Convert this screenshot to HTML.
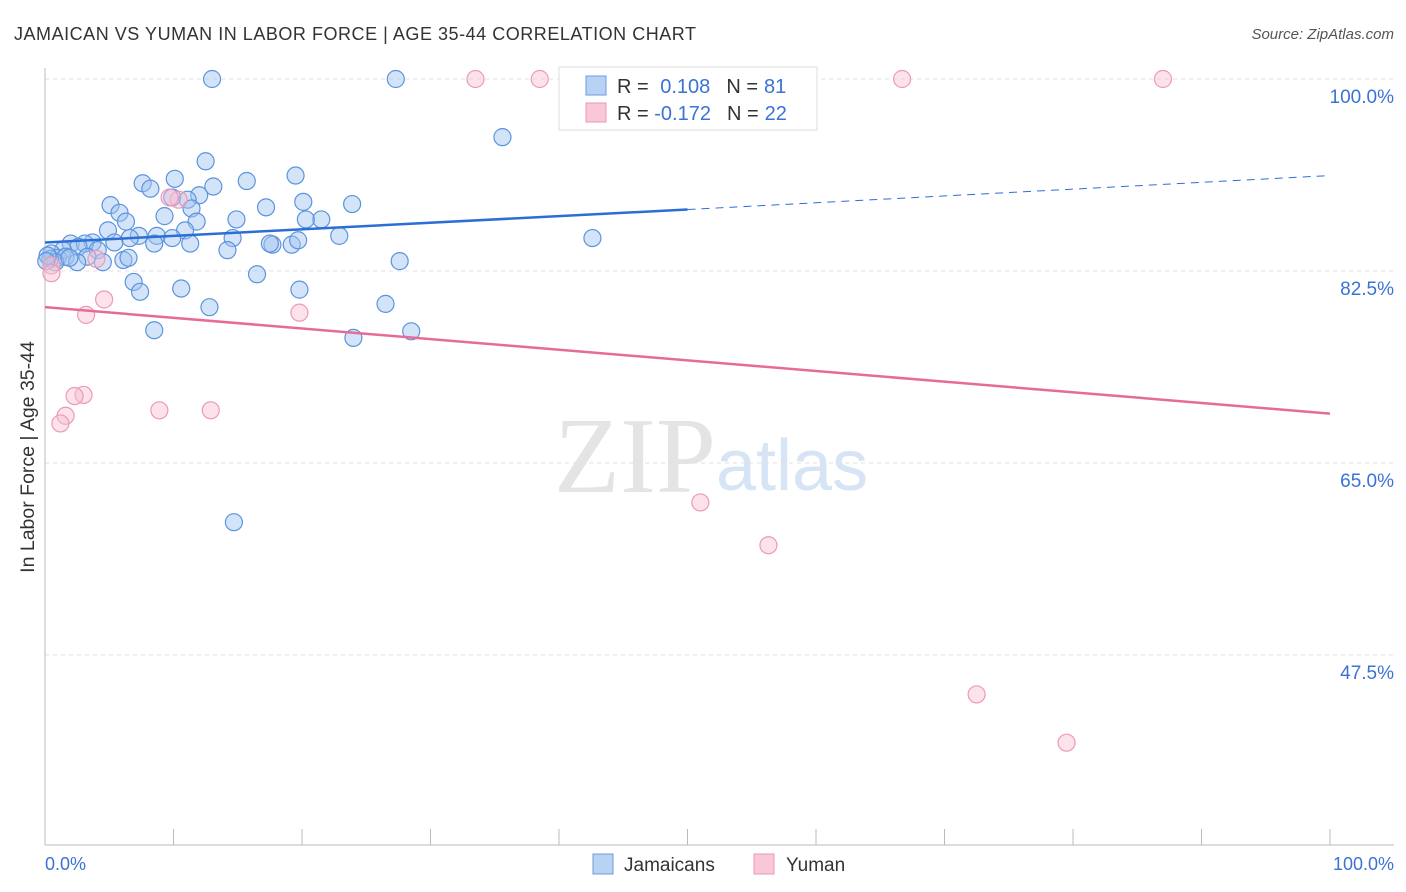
<!DOCTYPE html>
<html><head><meta charset="utf-8"><style>
body{margin:0;background:#fff;font-family:"Liberation Sans",sans-serif;}
</style></head><body>
<svg id="c" width="1406" height="892" style="display:block">
<text x="14" y="40" font-size="18" fill="#333" textLength="682">JAMAICAN VS YUMAN IN LABOR FORCE | AGE 35-44 CORRELATION CHART</text>
<text x="1394" y="39" font-size="15" fill="#555" text-anchor="end" font-style="italic">Source: ZipAtlas.com</text>
<text x="716" y="492" font-size="108" fill="#e4e4e4" text-anchor="end" font-family="Liberation Serif">ZIP</text>
<text x="716" y="490" font-size="72" fill="#d6e4f5">atlas</text>
<g id="grid"></g>
<g id="pts"></g>
<g id="lines"></g>
<text transform="translate(34,457) rotate(-90)" font-size="19.5" fill="#333" text-anchor="middle">In Labor Force | Age 35-44</text>
<text x="45" y="870" font-size="18" fill="#3b72d6">0.0%</text>
<text x="1394" y="870" font-size="18" fill="#3b72d6" text-anchor="end">100.0%</text>
<g>
<rect x="559" y="67" width="258" height="63" fill="#fff" stroke="#ddd"/>
<rect x="586" y="76" width="20" height="19" fill="#b9d2f3" stroke="#6b9be0"/>
<rect x="586" y="103" width="20" height="19" fill="#f9c7d6" stroke="#e997b2"/>
<text x="617" y="93" font-size="20" fill="#333">R = <tspan fill="#3b72d6" dx="6">0.108</tspan><tspan dx="16">N =</tspan><tspan fill="#3b72d6" dx="6">81</tspan></text>
<text x="617" y="120" font-size="20" fill="#333">R = <tspan fill="#3b72d6" dx="0">-0.172</tspan><tspan dx="16">N =</tspan><tspan fill="#3b72d6" dx="6">22</tspan></text>
</g>
<g>
<rect x="593" y="854" width="20" height="20" fill="#b9d2f3" stroke="#6b9be0"/>
<text x="624" y="871" font-size="19" fill="#333">Jamaicans</text>
<rect x="754" y="854" width="20" height="20" fill="#f9c7d6" stroke="#e997b2"/>
<text x="786" y="871" font-size="19" fill="#333">Yuman</text>
</g>
</svg>
<script>
const yTicks=[100,82.5,65,47.5];
const blueX=[13.0,27.3,35.6,12.5,19.5,10.1,15.7,7.6,8.2,13.1,12.0,9.9,11.1,20.1,23.9,5.1,11.4,5.8,17.2,9.3,14.9,11.8,21.5,20.3,4.9,6.3,7.3,10.9,8.7,9.9,14.6,22.9,6.6,42.6,5.4,8.5,11.3,3.7,2.0,3.1,17.7,17.5,19.2,19.7,14.2,2.6,4.1,1.4,0.5,1.0,1.6,3.3,4.5,6.1,6.5,2.5,27.6,16.5,6.9,7.4,10.6,19.8,26.5,12.8,8.5,28.5,24.0,14.7,0.4,0.8,0.2,1.9,0.1];
const blueY=[100,100,94.7,92.5,91.2,90.9,90.7,90.5,90.0,90.2,89.4,89.2,89.0,88.8,88.6,88.5,88.2,87.8,88.3,87.5,87.2,87.0,87.2,87.2,86.2,87.0,85.7,86.2,85.7,85.5,85.5,85.7,85.5,85.5,85.1,85.0,85.0,85.1,85.0,85.0,84.9,85.0,84.9,85.3,84.4,84.7,84.4,84.4,84.1,83.7,83.8,83.8,83.3,83.5,83.7,83.3,83.4,82.2,81.5,80.6,80.9,80.8,79.5,79.2,77.1,77.0,76.4,59.6,83.6,83.3,83.9,83.7,83.4];
const pinkX=[33.5,38.5,66.7,87.0,10.4,9.7,4.0,0.5,0.5,4.6,3.2,19.8,3.0,2.3,1.6,1.2,8.9,12.9,51.0,56.3,72.5,79.5];
const pinkY=[100,100,100,100,89.0,89.2,83.6,83.0,82.3,79.9,78.5,78.7,71.2,71.1,69.3,68.6,69.8,69.8,61.4,57.5,43.9,39.5];
const blueTrend=[[0,85.1],[50,88.1],[100,91.2]];
const pinkTrend=[[0,79.2],[100,69.5]];
const X=v=>45+v*12.85, Y=v=>79+(100-v)*10.97;
const NS='http://www.w3.org/2000/svg';
function mk(t,a,p){const e=document.createElementNS(NS,t);for(const k in a)e.setAttribute(k,a[k]);p.appendChild(e);return e;}
const g=document.getElementById('grid');
yTicks.forEach(t=>{
 const l=mk('line',{x1:45,x2:1394,y1:Y(t),y2:Y(t),stroke:'#e2e2e2','stroke-dasharray':'4,4'},g);
 
 
 const tx=mk('text',{x:1394,y:Y(t)+24,'font-size':19,fill:'#3b72d6','text-anchor':'end'},g);
 tx.textContent=t.toFixed(1)+'%';
 
 
});
mk('line',{x1:45,x2:45,y1:68,y2:845,stroke:'#bbb'},g);
mk('line',{x1:45,x2:1394,y1:845,y2:845,stroke:'#bbb'},g);
for(let i=0;i<=10;i++){const l=mk('line',{x1:X(i*10),x2:X(i*10),y1:829,y2:845,stroke:'#bbb'},g);
 
 }
const p=document.getElementById('pts');
blueX.forEach((x,i)=>{const c=mk('circle',{cx:X(x),cy:Y(blueY[i]),r:8.5,fill:'rgba(160,195,240,0.45)',stroke:'#5c93df','stroke-width':1.2},p);
 
 });
pinkX.forEach((x,i)=>{const c=mk('circle',{cx:X(x),cy:Y(pinkY[i]),r:8.5,fill:'rgba(248,190,208,0.45)',stroke:'#ec9ab5','stroke-width':1.2},p);
 
 });
const L=document.getElementById('lines');
let a=mk('line',{x1:X(blueTrend[0][0]),y1:Y(blueTrend[0][1]),x2:X(blueTrend[1][0]),y2:Y(blueTrend[1][1]),stroke:'#2b6fd6','stroke-width':2.5},L);


a=mk('line',{x1:X(blueTrend[1][0]),y1:Y(blueTrend[1][1]),x2:X(blueTrend[2][0]),y2:Y(blueTrend[2][1]),stroke:'#2b6fd6','stroke-width':1,'stroke-dasharray':'8,6'},L);


a=mk('line',{x1:X(pinkTrend[0][0]),y1:Y(pinkTrend[0][1]),x2:X(pinkTrend[1][0]),y2:Y(pinkTrend[1][1]),stroke:'#e76b96','stroke-width':2.5},L);


</script>
</body></html>
